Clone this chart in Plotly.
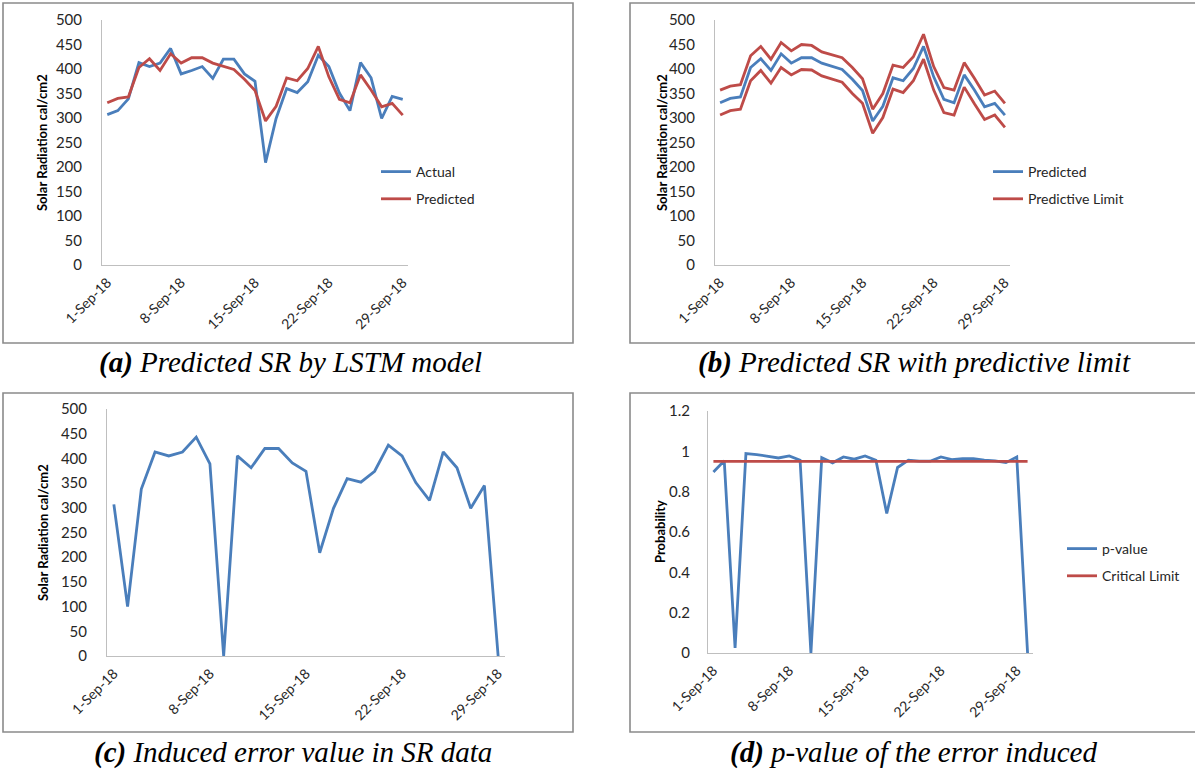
import plotly.graph_objects as go
import pandas as pd

W, H = 1195, 771

# ---------------- data ----------------
dates_29 = pd.date_range("2018-09-01", "2018-09-29").strftime("%Y-%m-%d").tolist()
dates_30 = pd.date_range("2018-09-01", "2018-09-30").strftime("%Y-%m-%d").tolist()
tick_dates = ["2018-09-01", "2018-09-08", "2018-09-15", "2018-09-22", "2018-09-29"]
tick_labels = ["1-Sep-18", "8-Sep-18", "15-Sep-18", "22-Sep-18", "29-Sep-18"]

actual = [307, 315, 339, 413, 405, 412, 442, 390, 397, 405, 381, 420, 420, 390, 375,
          209, 299, 360, 352, 374, 428, 405, 351, 315, 413, 382, 299, 344, 338]
predicted = [331, 340, 343, 403, 421, 397, 431, 412, 423, 423, 412, 405, 399, 379, 356,
             294, 324, 382, 376, 401, 446, 384, 338, 331, 388, 357, 323, 330, 306]
upper_limit = [357, 365, 368, 427, 446, 420, 454, 437, 450, 448, 435, 429, 423, 403, 380,
               318, 350, 408, 403, 425, 471, 405, 362, 357, 413, 381, 347, 355, 330]
lower_limit = [306, 315, 318, 376, 397, 371, 403, 388, 399, 398, 386, 379, 373, 350, 330,
               269, 301, 359, 352, 376, 420, 357, 311, 306, 363, 329, 297, 306, 281]
induced_error = [307, 100, 338, 413, 405, 413, 443, 389, 0, 405, 381, 420, 420, 391, 374,
                 209, 299, 359, 352, 374, 427, 405, 351, 315, 413, 381, 299, 345, 0]
p_value = [0.898, 0.953, 0.025, 0.989, 0.984, 0.976, 0.967, 0.977, 0.956, 0.0,
           0.969, 0.943, 0.972, 0.961, 0.977, 0.956, 0.692, 0.920, 0.956, 0.951,
           0.951, 0.972, 0.959, 0.964, 0.964, 0.956, 0.953, 0.944, 0.972, 0.0]
critical_limit = [0.95, 0.95, 0.95, 0.95, 0.95, 0.95, 0.95, 0.95, 0.95, 0.95,
                  0.95, 0.95, 0.95, 0.95, 0.95, 0.95, 0.95, 0.95, 0.95, 0.95,
                  0.95, 0.95, 0.95, 0.95, 0.95, 0.95, 0.95, 0.95, 0.95, 0.95]

captions = [
    ("(a)", " Predicted SR by LSTM model"),
    ("(b)", " Predicted SR with predictive limit"),
    ("(c)", " Induced error value in SR data"),
    ("(d)", " p-value of the error induced"),
]

# ---------------- style ----------------
BLUE = "#4A7EBB"
RED = "#BE4B48"
AXIS = "#BFBFBF"
TXT = "#262626"
SANS = "Lato, Calibri, Carlito, sans-serif"
SERIF = "Liberation Serif, Times New Roman, serif"
LW = 2.8


def xd(a, b):
    return [a / W, b / W]


def yd(top, bottom):
    return [1 - bottom / H, 1 - top / H]


fig = go.Figure()

# (a)
fig.add_trace(go.Scatter(x=dates_29, y=actual, name="Actual", mode="lines",
                         line=dict(color=BLUE, width=LW), xaxis="x", yaxis="y",
                         legend="legend", legendgroup="a1"))
fig.add_trace(go.Scatter(x=dates_29, y=predicted, name="Predicted", mode="lines",
                         line=dict(color=RED, width=LW), xaxis="x", yaxis="y",
                         legend="legend", legendgroup="a2"))
# (b)
fig.add_trace(go.Scatter(x=dates_29, y=predicted, name="Predicted", mode="lines",
                         line=dict(color=BLUE, width=LW), xaxis="x2", yaxis="y2",
                         legend="legend2", legendgroup="b1"))
fig.add_trace(go.Scatter(x=dates_29, y=upper_limit, name="Predictive Limit", mode="lines",
                         line=dict(color=RED, width=LW), xaxis="x2", yaxis="y2",
                         legend="legend2", legendgroup="b2"))
fig.add_trace(go.Scatter(x=dates_29, y=lower_limit, name="Predictive Limit", mode="lines",
                         line=dict(color=RED, width=LW), xaxis="x2", yaxis="y2",
                         legend="legend2", legendgroup="b2", showlegend=False))
# (c)
fig.add_trace(go.Scatter(x=dates_29, y=induced_error, name="Induced error", mode="lines",
                         line=dict(color=BLUE, width=LW), xaxis="x3", yaxis="y3",
                         showlegend=False))
# (d)
fig.add_trace(go.Scatter(x=dates_30, y=p_value, name="p-value", mode="lines",
                         line=dict(color=BLUE, width=LW), xaxis="x4", yaxis="y4",
                         legend="legend3", legendgroup="d1"))
fig.add_trace(go.Scatter(x=dates_30, y=critical_limit, name="Critical Limit", mode="lines",
                         line=dict(color=RED, width=LW), xaxis="x4", yaxis="y4",
                         legend="legend3", legendgroup="d2"))


def xaxis(dom, anchor, last_day):
    return dict(domain=dom, anchor=anchor, type="date",
                range=["2018-08-31 12:00", last_day + " 12:00"],
                tickmode="array", tickvals=tick_dates, ticktext=tick_labels,
                tickangle=-45, ticks="", showgrid=False, zeroline=False,
                showline=True, linecolor=AXIS, linewidth=1,
                tickfont=dict(family=SANS, size=14, color=TXT),
                ticklabelstandoff=3, fixedrange=True, automargin=False)


def yaxis(dom, anchor, rng, dtick, standoff):
    return dict(domain=dom, anchor=anchor, range=rng, dtick=dtick, tick0=0,
                ticks="", showgrid=False, zeroline=False,
                showline=True, linecolor=AXIS, linewidth=1,
                tickfont=dict(family=SANS, size=15, color=TXT),
                ticklabelstandoff=standoff, fixedrange=True, automargin=False)


layout = dict(
    width=W, height=H, autosize=False,
    margin=dict(l=0, r=0, t=0, b=0, pad=0, autoexpand=False),
    paper_bgcolor="white", plot_bgcolor="white",
    xaxis=xaxis(xd(102, 408), "y", "2018-09-29"),
    yaxis=yaxis(yd(20, 265), "x", [0, 500], 50, 16),
    xaxis2=xaxis(xd(715, 1010), "y2", "2018-09-29"),
    yaxis2=yaxis(yd(20, 265), "x2", [0, 500], 50, 16),
    xaxis3=xaxis(xd(107, 505), "y3", "2018-09-29"),
    yaxis3=yaxis(yd(409, 656), "x3", [0, 500], 50, 16),
    xaxis4=xaxis(xd(708, 1033), "y4", "2018-09-30"),
    yaxis4=yaxis(yd(411, 653), "x4", [0, 1.2], 0.2, 14),
)

leg_common = dict(xanchor="left", yanchor="top", bgcolor="rgba(0,0,0,0)",
                  font=dict(family=SANS, size=14, color=TXT),
                  traceorder="grouped", tracegroupgap=6, itemwidth=30)
layout["legend"] = dict(x=376 / W, y=1 - 156 / H, **leg_common)
layout["legend2"] = dict(x=988 / W, y=1 - 156 / H, **leg_common)
layout["legend3"] = dict(x=1062 / W, y=1 - 533 / H, **leg_common)

# panel frames (right-hand panels run off the page, so no right edge)
FRAME = dict(color="#8A8A8A", width=1.6)
shapes = []
for (x0, y0, x1, y1) in [(3, 3, 573, 343), (3, 393, 573, 732)]:
    shapes.append(dict(type="rect", xref="paper", yref="paper",
                       x0=x0 / W, x1=x1 / W, y0=1 - y1 / H, y1=1 - y0 / H,
                       line=FRAME, fillcolor="rgba(0,0,0,0)", layer="below"))
for (x0, y0, y1) in [(630, 3, 343), (630, 393, 732)]:
    px0, px1 = x0 / W, 1.0
    py0, py1 = 1 - y0 / H, 1 - y1 / H
    shapes.append(dict(type="path", xref="paper", yref="paper",
                       path=f"M {px1},{py0} L {px0},{py0} L {px0},{py1} L {px1},{py1}",
                       line=FRAME, layer="below"))
layout["shapes"] = shapes

annotations = []
# y-axis titles
for (cx, cy, txt) in [(42, 143, "Solar Radiation cal/cm2"), (662, 143, "Solar Radiation cal/cm2"),
                      (43, 533, "Solar Radiation cal/cm2"), (660, 532, "Probability")]:
    annotations.append(dict(x=cx / W, y=1 - cy / H, xref="paper", yref="paper",
                            text="<b>" + txt + "</b>", textangle=-90, showarrow=False,
                            xanchor="center", yanchor="middle",
                            font=dict(family=SANS, size=13, color="black")))
# captions
for (cx, cy), (lab, rest) in zip([(290, 362), (914, 362), (293, 752), (913, 752)], captions):
    annotations.append(dict(x=cx / W, y=1 - cy / H, xref="paper", yref="paper",
                            text="<b><i>" + lab + "</i></b><i>" + rest + "</i>",
                            showarrow=False, xanchor="center", yanchor="middle",
                            font=dict(family=SERIF, size=29, color="black")))
layout["annotations"] = annotations

fig.update_layout(**layout)
fig.write_html("out.html", config={"displayModeBar": False},
               post_script="document.body.style.margin='0';document.body.style.overflow='hidden';")
